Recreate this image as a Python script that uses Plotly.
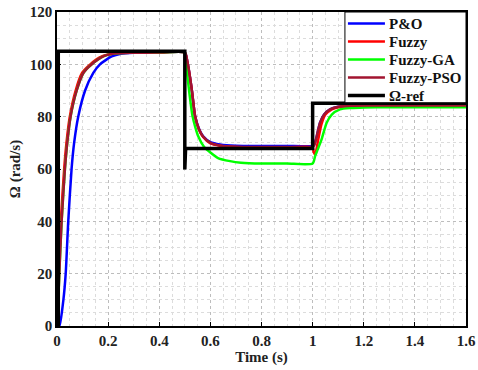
import plotly.graph_objects as go

# ---- data ----
t_po = [0, 0.009, 0.025, 0.034, 0.044, 0.057, 0.067, 0.083, 0.11, 0.142, 0.168, 0.214, 0.25, 0.3, 0.4, 0.5,
        0.51, 0.527, 0.54, 0.555, 0.571, 0.6, 0.638, 0.7, 0.8, 0.9, 1.0,
        1.006, 1.013, 1.029, 1.045, 1.068, 1.1, 1.15, 1.2, 1.4, 1.6]
v_po = [0, 0, 10, 20, 40, 60, 70, 80, 90, 96.7, 100, 103, 104, 104.4, 104.5, 104.5,
        101, 90.5, 80.3, 75.5, 72.6, 70.3, 69.4, 68.9, 68.8, 68.8, 68.8,
        69.3, 71.3, 77.7, 80.8, 82.8, 83.8, 84.3, 84.4, 84.4, 84.4]

t_fz = [0, 0.002, 0.004, 0.007, 0.015, 0.028, 0.037, 0.05, 0.073, 0.098, 0.13, 0.175, 0.23, 0.3, 0.4, 0.5,
        0.51, 0.527, 0.54, 0.555, 0.571, 0.6, 0.638, 0.7, 0.8, 0.9, 1.0,
        1.004, 1.01, 1.022, 1.035, 1.05, 1.075, 1.1, 1.15, 1.2, 1.4, 1.6]
v_fz = [0, 0, 10, 20, 40, 60, 70, 80, 90, 96.7, 100, 103, 104.2, 104.4, 104.5, 104.5,
        101, 90.5, 80.3, 75.2, 72.3, 69.8, 68.9, 68.4, 68.3, 68.3, 68.3,
        66.5, 65.5, 71.3, 77.2, 80.8, 82.8, 83.6, 84.2, 84.3, 84.3, 84.3]

t_ga = [0, 0.001, 0.005, 0.009, 0.018, 0.031, 0.04, 0.053, 0.077, 0.103, 0.136, 0.181, 0.23, 0.3, 0.4, 0.5,
        0.505, 0.516, 0.53, 0.541, 0.552, 0.575, 0.6, 0.63, 0.677, 0.72, 0.8, 0.9, 1.0,
        1.01, 1.02, 1.035, 1.055, 1.075, 1.107, 1.15, 1.2, 1.3, 1.4, 1.6]
v_ga = [0, 0, 10, 20, 40, 60, 70, 80, 90, 96.7, 100, 103, 104.2, 104.4, 104.5, 104.5,
        100, 90.5, 80.3, 76, 72.6, 68.5, 66.3, 64.2, 63, 62.4, 62.1, 62.1, 62.1,
        65, 67.5, 71.3, 77.7, 80.8, 82.8, 83.3, 83.5, 83.6, 83.6, 83.6]

t_pso = [0, 0.001, 0.005, 0.009, 0.018, 0.031, 0.04, 0.053, 0.077, 0.103, 0.136, 0.181, 0.23, 0.3, 0.4, 0.5,
         0.51, 0.527, 0.54, 0.555, 0.571, 0.6, 0.638, 0.7, 0.8, 0.9, 1.0,
         1.006, 1.013, 1.029, 1.045, 1.068, 1.1, 1.15, 1.2, 1.4, 1.6]
v_pso = [0, 0, 10, 20, 40, 60, 70, 80, 90, 96.7, 100, 103, 104.2, 104.4, 104.5, 104.5,
         101, 90.5, 80.3, 75.3, 72.4, 70, 69, 68.5, 68.4, 68.4, 68.4,
         69, 71.3, 77.7, 80.8, 82.8, 83.8, 84.2, 84.3, 84.3, 84.3]

t_ref = [0, 0.005, 0.005, 0.5, 0.5, 0.5, 0.503, 1.0, 1.0, 1.6]
v_ref = [0, 0, 105, 105, 105, 59.8, 67.8, 67.8, 85.1, 85.1]

x_ticks = [0, 0.2, 0.4, 0.6, 0.8, 1, 1.2, 1.4, 1.6]
y_ticks = [0, 20, 40, 60, 80, 100, 120]

FONT = "Liberation Serif"

series = [
    ("P&O", t_po, v_po, "#0000ff", 2.5, "spline"),
    ("Fuzzy", t_fz, v_fz, "#ff0000", 2.5, "spline"),
    ("Fuzzy-GA", t_ga, v_ga, "#00ff00", 2.5, "spline"),
    ("Fuzzy-PSO", t_pso, v_pso, "#a2142f", 2.5, "spline"),
    ("Ω-ref", t_ref, v_ref, "#000000", 3.5, "linear"),
]

fig = go.Figure()
for name, t, v, c, w, shp in series:
    fig.add_trace(go.Scatter(x=t, y=v, mode="lines", name=name, showlegend=False,
                             line=dict(color=c, width=w, shape=shp, smoothing=0.6)))

TICKFONT = dict(family=FONT, size=15, color="#222", weight="bold")
TITLEFONT = dict(family=FONT, size=15, color="#222", weight="bold")

axis_common = dict(
    showline=True, linecolor="black", linewidth=1.5, mirror=True,
    ticks="inside", ticklen=4, tickcolor="black",
    showgrid=True, gridcolor="#bdbdbd", griddash="dot", gridwidth=1,
    zeroline=False, automargin=False,
    tickfont=TICKFONT,
)

fig.update_xaxes(range=[0, 1.6], tickvals=x_ticks,
                 title=dict(text="Time (s)", font=TITLEFONT, standoff=2),
                 minor=dict(dtick=0.05, showgrid=True, gridcolor="#dcdcdc", griddash="dot", gridwidth=1),
                 **axis_common)
fig.update_yaxes(range=[0, 120], tickvals=y_ticks,
                 title=dict(text="Ω (rad/s)", font=TITLEFONT, standoff=6),
                 minor=dict(dtick=5, showgrid=True, gridcolor="#dcdcdc", griddash="dot", gridwidth=1),
                 **axis_common)

# ---- legend box (MATLAB style, compact spacing) ----
PLOT_W, PLOT_H = 409.0, 314.0
box_x0, box_y0 = 0.704, 0.711
fig.add_shape(type="rect", xref="paper", yref="paper", x0=box_x0, y0=box_y0, x1=1.0, y1=1.0,
              fillcolor="white", line=dict(color="black", width=1), layer="above")
row_top = 1.0 - 11.5 / PLOT_H
row_step = 18.0 / PLOT_H
for i, (name, t, v, c, w, shp) in enumerate(series):
    yy = row_top - i * row_step
    fig.add_shape(type="line", xref="paper", yref="paper",
                  x0=box_x0 + 3 / PLOT_W, x1=box_x0 + 40 / PLOT_W, y0=yy, y1=yy,
                  line=dict(color=c, width=w), layer="above")
    fig.add_annotation(xref="paper", yref="paper", x=box_x0 + 42 / PLOT_W, y=yy,
                       xanchor="left", yanchor="middle", showarrow=False, text=name,
                       font=dict(family=FONT, size=15, color="#111", weight="bold"))

fig.update_layout(
    width=478, height=370,
    margin=dict(l=57, r=12, t=12, b=44),
    paper_bgcolor="white", plot_bgcolor="white",
    font=dict(family=FONT, color="#222"),
    showlegend=False,
)

fig.write_html("out.html")
